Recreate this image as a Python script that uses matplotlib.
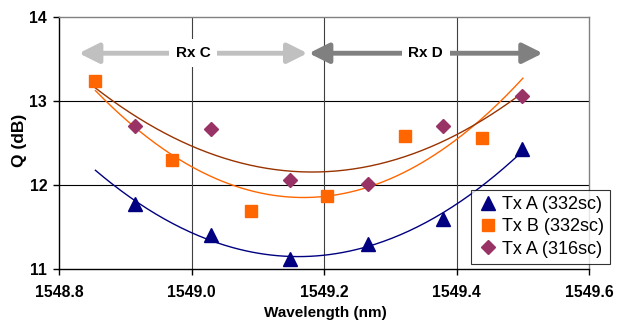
import numpy as np
import matplotlib.pyplot as plt

plt.rcParams['font.family'] = ['Liberation Sans', 'DejaVu Sans']

# data
wl_a332 = [1548.914, 1549.030, 1549.149, 1549.266, 1549.380, 1549.498]
q_a332 = [11.78, 11.41, 11.12, 11.30, 11.60, 12.43]

wl_b332 = [1548.854, 1548.971, 1549.089, 1549.204, 1549.322, 1549.438]
q_b332 = [13.24, 12.30, 11.69, 11.87, 12.58, 12.56]

wl_a316 = [1548.914, 1549.030, 1549.149, 1549.266, 1549.380, 1549.498]
q_a316 = [12.70, 12.67, 12.06, 12.01, 12.70, 13.06]

series = [
    ('Tx A (332sc)', wl_a332, q_a332, '^', '#000080', '#000080', 10),
    ('Tx B (332sc)', wl_b332, q_b332, 's', '#FF6600', '#FF6600', 9),
    ('Tx A (316sc)', wl_a316, q_a316, 'D', '#993366', '#993300', 7),
]

rx_c = (1548.83, 1549.175)
rx_d = (1549.177, 1549.53)
rx_y = 13.57

fig = plt.figure(figsize=(6.26, 3.23), dpi=100)
ax = fig.add_axes([0.0942, 0.167, 0.847, 0.780])

fit_x = np.linspace(1548.855, 1549.5, 200)
handles = []
for label, x, y, mk, col, tcol, ms in series:
    h, = ax.plot(x, y, linestyle='none', marker=mk, color=col, markersize=ms,
                 label=label, zorder=4)
    handles.append(h)
    coef = np.polyfit(x, y, 2)
    ax.plot(fit_x, np.polyval(coef, fit_x), color=tcol, linewidth=1.0, zorder=3)

ax.set_xlim(1548.8, 1549.6)
ax.set_ylim(11, 14)
ax.set_xticks([1548.8, 1549.0, 1549.2, 1549.4, 1549.6])
ax.set_xticklabels(['1548.8', '1549.0', '1549.2', '1549.4', '1549.6'])
ax.set_yticks([11, 12, 13, 14])

for v in [12, 13]:
    ax.axhline(v, color='black', linewidth=0.8, zorder=1)
for v in [1549.0, 1549.2, 1549.4]:
    ax.axvline(v, color='#404040', linewidth=0.8, zorder=1)

ax.spines['left'].set_color('black')
ax.spines['bottom'].set_color('black')
ax.spines['top'].set_color('#808080')
ax.spines['right'].set_color('#808080')
for s in ax.spines.values():
    s.set_linewidth(1.0)

ax.tick_params(axis='both', direction='out', length=4, width=1, labelsize=11.3)
ax.tick_params(axis='x', pad=7.5)
ax.tick_params(axis='y', pad=4.5)
for t in ax.get_xticklabels() + ax.get_yticklabels():
    t.set_fontweight('bold')

ax.set_xlabel('Wavelength (nm)', fontsize=11, fontweight='bold')
ax.xaxis.set_label_coords(0.503, -0.175)
ax.xaxis.label.set_va('center')
ax.set_ylabel('Q (dB)', fontsize=12.5, fontweight='bold')
ax.yaxis.set_label_coords(-0.0745, 0.512)
ax.yaxis.label.set_va('center')

# Rx C / Rx D arrows
for (x0, x1), col, txt in [(rx_c, '#C0C0C0', 'Rx C'), (rx_d, '#808080', 'Rx D')]:
    ax.annotate('', xy=(x0, rx_y), xytext=(x1, rx_y),
                arrowprops=dict(arrowstyle='<|-|>,head_length=1.2,head_width=0.6',
                                color=col, linewidth=3.5, shrinkA=0, shrinkB=0),
                zorder=5)
    ax.text((x0 + x1) / 2, rx_y, txt, ha='center', va='center', fontsize=11,
            fontweight='bold', zorder=6,
            bbox=dict(facecolor='white', edgecolor='none', pad=5))

leg = ax.legend(handles=handles, loc='lower left', bbox_to_anchor=(0.777, 0.02),
                fontsize=13, frameon=True, fancybox=False, borderpad=0.35,
                handletextpad=0.15, labelspacing=0.3, handlelength=1.2,
                borderaxespad=0)
leg.get_frame().set_edgecolor('black')
leg.get_frame().set_linewidth(0.8)
leg.set_zorder(10)

fig.savefig('out.png', dpi=100)
